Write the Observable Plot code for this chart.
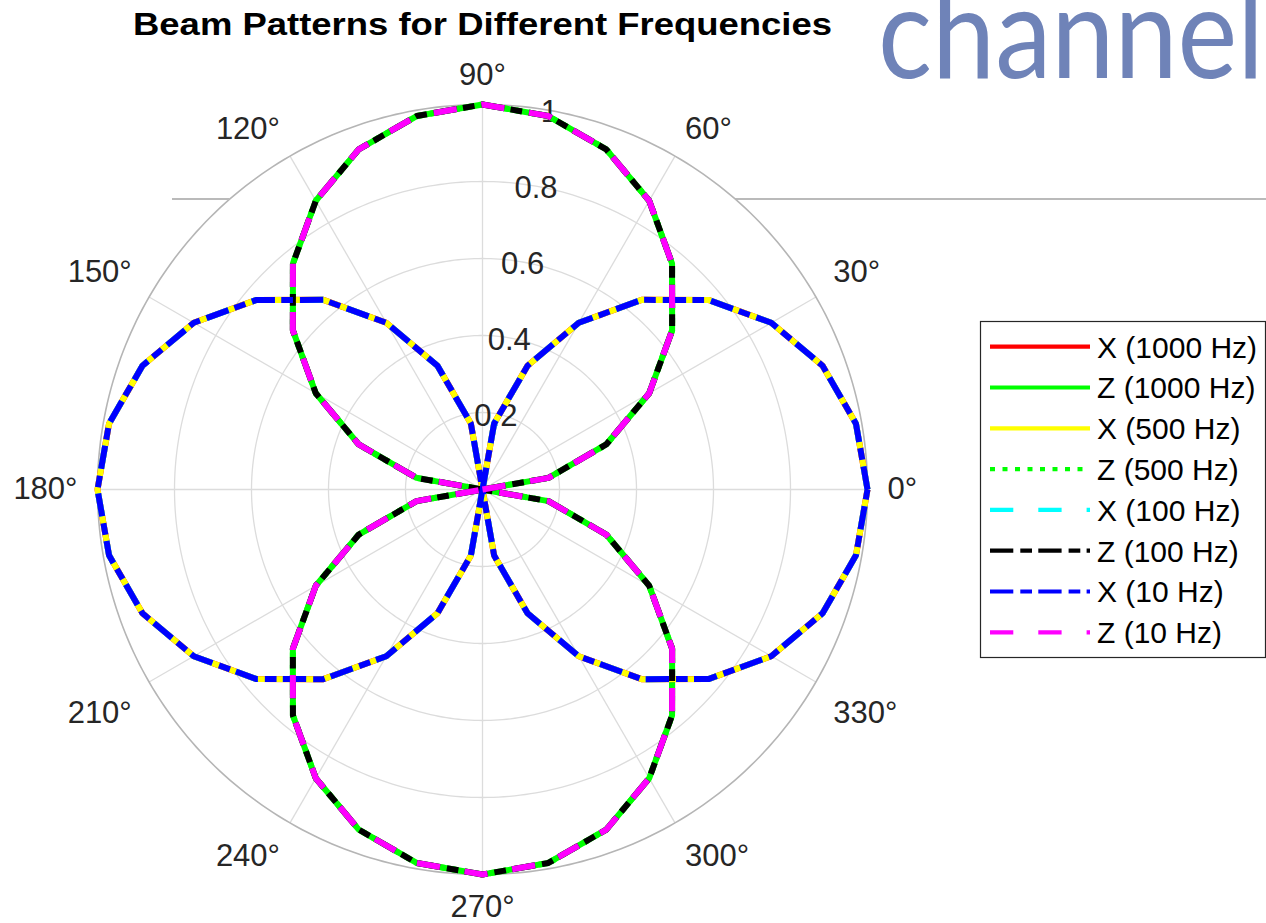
<!DOCTYPE html>
<html>
<head>
<meta charset="utf-8">
<script src="https://cdn.jsdelivr.net/npm/d3@7"></script>
<script src="https://cdn.jsdelivr.net/npm/@observablehq/plot@0.6"></script>
<style>
  html, body { margin: 0; padding: 0; background: #fff; overflow: hidden; width: 1266px; height: 923px; }
  #wrap { position: relative; width: 1266px; height: 923px; }
  #under, #chart, #over { position: absolute; left: 0; top: 0; }
  #over { pointer-events: none; }
</style>
</head>
<body>
<div id="wrap">
  <svg id="under" width="1266" height="923"></svg>
  <div id="chart"></div>
  <svg id="over" width="1266" height="923"></svg>
</div>
<script>
// ---------- data ----------
const angleDeg = [0,10,20,30,40,50,60,70,80,90,100,110,120,130,140,150,160,170,180,190,200,210,220,230,240,250,260,270,280,290,300,310,320,330,340,350,360];
const xGain = [1.000,0.985,0.940,0.866,0.766,0.643,0.500,0.342,0.174,0.000,0.174,0.342,0.500,0.643,0.766,0.866,0.940,0.985,1.000,0.985,0.940,0.866,0.766,0.643,0.500,0.342,0.174,0.000,0.174,0.342,0.500,0.643,0.766,0.866,0.940,0.985,1.000];
const zGain = [0.000,0.174,0.342,0.500,0.643,0.766,0.866,0.940,0.985,1.000,0.985,0.940,0.866,0.766,0.643,0.500,0.342,0.174,0.000,0.174,0.342,0.500,0.643,0.766,0.866,0.940,0.985,1.000,0.985,0.940,0.866,0.766,0.643,0.500,0.342,0.174,0.000];
const seriesLabels = ["X (1000 Hz)", "Z (1000 Hz)", "X (500 Hz)", "Z (500 Hz)", "X (100 Hz)", "Z (100 Hz)", "X (10 Hz)", "Z (10 Hz)"];
const seriesComponent = ["X", "Z", "X", "Z", "X", "Z", "X", "Z"];
const rTicks = [0.2, 0.4, 0.6, 0.8, 1];
const rTickLabels = ["0.2", "0.4", "0.6", "0.8", "1"];
const thetaTicks = [0, 30, 60, 90, 120, 150, 180, 210, 240, 270, 300, 330];
const titleText = "Beam Patterns for Different Frequencies";
const brandText = "channel";

// ---------- styles ----------
const seriesColors = ["#ff0000", "#00ff00", "#ffff00", "#00ff00", "#00ffff", "#000000", "#0000ff", "#ff00ff"];
const seriesDash = [null, null, null, "5,7.5", "23.3,25", "23.3,7,11.7,6.3", "23.3,7,11.7,6.3", "23.3,25"];
const drawOrder = [1, 0, 2, 3, 4, 5, 6, 7];
const thetaLabelDy = [0, -5, 0, 0, 0, -5, 0, 9, 4, 0, 4, 9];
const font = "'Liberation Sans', Arial, Helvetica, sans-serif";
const rad = d => d * Math.PI / 180;

// ---------- build series ----------
const seriesData = seriesLabels.map((label, i) => {
  const g = seriesComponent[i] === "X" ? xGain : zGain;
  return angleDeg.map((a, j) => ({series: label, a, r: g[j]}));
});
const px = d => d.r * Math.cos(rad(d.a));
const py = d => d.r * Math.sin(rad(d.a));

// grid geometry
const circleSteps = d3.range(0, 360.5, 1);
const ringPts = rTicks.flatMap(r => circleSteps.map(t => ({r, t})));
const diskPts = d3.range(0, 180.25, 0.5).map(t => ({t}));

// theta label anchoring (MATLAB-like)
function anchorOf(a) {
  const h = (a === 90 || a === 270) ? "middle" : (a < 90 || a > 270) ? "start" : "end";
  const v = (a === 0 || a === 180) ? "middle" : (a < 180) ? "bottom" : "top";
  return [h, v];
}
const labelR = 1 + 20 / 385;

const marks = [
  Plot.areaY(diskPts, {x: d => Math.cos(rad(d.t)), y1: d => -Math.sin(rad(d.t)), y2: d => Math.sin(rad(d.t)), fill: "white"}),
  Plot.link(thetaTicks, {x1: () => 0, y1: () => 0, x2: a => Math.cos(rad(a)), y2: a => Math.sin(rad(a)), stroke: "#dcdcdc", strokeWidth: 1.3}),
  Plot.line(ringPts.filter(d => d.r < 1), {x: d => d.r * Math.cos(rad(d.t)), y: d => d.r * Math.sin(rad(d.t)), z: "r", stroke: "#dcdcdc", strokeWidth: 1.3}),
  Plot.line(ringPts.filter(d => d.r === 1), {x: d => Math.cos(rad(d.t)), y: d => Math.sin(rad(d.t)), stroke: "#b5b5b5", strokeWidth: 1.6}),
  Plot.text(rTicks, {x: r => r * Math.cos(rad(80)), y: r => r * Math.sin(rad(80)), text: (r, i) => rTickLabels[i], dy: 2, fontSize: 31, fill: "#262626", fontFamily: font}),
  ...drawOrder.map(i => Plot.line(seriesData[i], {
    x: px, y: py, stroke: seriesColors[i], strokeWidth: 6,
    strokeDasharray: seriesDash[i] || undefined,
    strokeLinecap: "butt", strokeLinejoin: "miter"
  })),
  ...thetaTicks.map((a, k) => {
    const [h, v] = anchorOf(a);
    return Plot.text([a], {
      x: d => labelR * Math.cos(rad(d)), y: d => labelR * Math.sin(rad(d)),
      text: d => `${d}°`, textAnchor: h, lineAnchor: v, dy: thetaLabelDy[k],
      fontSize: 31, fill: "#262626", fontFamily: font
    });
  })
];

const chart = Plot.plot({
  width: 1266, height: 923,
  marginLeft: 97, marginRight: 399, marginTop: 104, marginBottom: 49,
  x: {domain: [-1, 1], axis: null},
  y: {domain: [-1, 1], axis: null},
  style: {background: "transparent", overflow: "visible"},
  marks
});
document.getElementById("chart").appendChild(chart);

// ---------- underlay decoration ----------
const under = d3.select("#under");
under.append("line").attr("x1", 172).attr("x2", 1266).attr("y1", 199).attr("y2", 199)
  .attr("stroke", "#a3a3a3").attr("stroke-width", 1.6);

// ---------- overlay: title, brand text, legend ----------
const over = d3.select("#over");
over.append("text").attr("x", 133).attr("y", 35)
  .attr("textLength", 699).attr("lengthAdjust", "spacingAndGlyphs")
  .attr("font-family", font).attr("font-weight", "bold").attr("font-size", 32)
  .attr("fill", "#000").text(titleText);

over.append("text").attr("x", 878).attr("y", 78)
  .attr("textLength", 386).attr("lengthAdjust", "spacingAndGlyphs")
  .attr("font-family", "Lato, 'Open Sans', sans-serif").attr("font-size", 128)
  .attr("fill", "#6f83b8").text(brandText);

const lg = over.append("g");
lg.append("rect").attr("x", 980.5).attr("y", 321.5).attr("width", 285).attr("height", 336)
  .attr("fill", "white").attr("stroke", "#262626").attr("stroke-width", 1.2);
seriesLabels.forEach((label, i) => {
  const y = 346.7 + i * 40.8;
  const ln = lg.append("line").attr("x1", 990).attr("x2", 1090).attr("y1", y).attr("y2", y)
    .attr("stroke", seriesColors[i]).attr("stroke-width", 4.2);
  if (seriesDash[i]) ln.attr("stroke-dasharray", seriesDash[i]);
  lg.append("text").attr("x", 1097).attr("y", y).attr("dy", "0.36em")
    .attr("font-family", font).attr("font-size", 30).attr("fill", "#000").text(label);
});
</script>
</body>
</html>
